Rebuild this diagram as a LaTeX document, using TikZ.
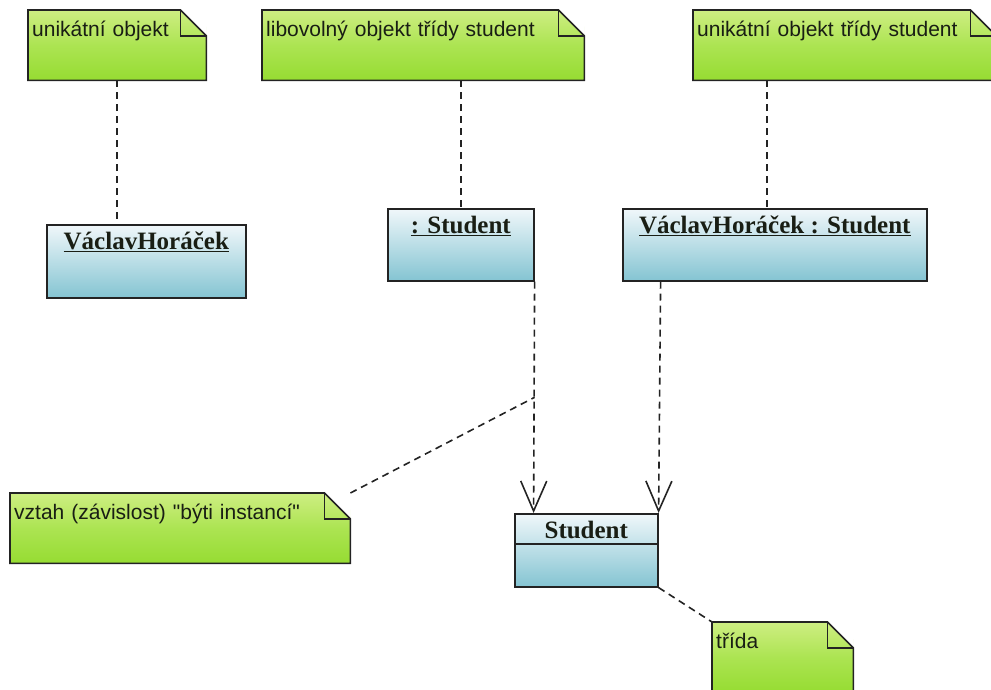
\documentclass[tikz,border=0pt]{standalone}
\usepackage{fontspec}
\setmainfont{Liberation Serif}
\newfontfamily\notefont{Liberation Sans}
\usetikzlibrary{arrows.meta,calc}

\definecolor{noteTop}{RGB}{206,238,130}
\definecolor{noteMid}{RGB}{172,228,82}
\definecolor{noteBot}{RGB}{150,220,50}
\definecolor{boxTop}{RGB}{240,247,250}
\definecolor{boxBot}{RGB}{132,196,210}
\definecolor{edge}{RGB}{35,35,35}
\definecolor{ink}{RGB}{25,30,20}

\tikzset{
  notebox/.style={anchor=north west, inner xsep=4pt, inner ysep=0pt,
    text height=26pt, text depth=44pt, align=left, text=ink,
    top color=noteTop, bottom color=noteBot, middle color=noteMid,
    font=\notefont\fontsize{21}{25}\selectfont},
  objbox/.style={anchor=north west, inner xsep=2pt, inner ysep=0pt,
    text height=25pt, align=center, text=ink,
    top color=boxTop, bottom color=boxBot, draw=edge, line width=1.6pt,
    font=\bfseries\fontsize{25}{29}\selectfont},
  noteline/.style={draw=edge, line width=1.6pt, line join=miter},
  link/.style={draw=edge, line width=1.6pt, dash pattern=on 7pt off 5pt},
  instof/.style={link, -{Straight Barb[length=30pt,width=26pt,line width=1.6pt]}},
}

\begin{document}
\begin{tikzpicture}[x=1pt,y=-1pt]
\useasboundingbox (0,0) rectangle (991,690);
\clip (0,0) rectangle (991,690);

% comment notes
\node[notebox, text width=170pt] (n1) at (28,10) {unikátní objekt};
\node[notebox, text width=314pt] (n2) at (262,10) {libovolný objekt třídy student};
\node[notebox, text width=295pt] (n3) at (693,10) {unikátní objekt třídy student};
\node[notebox, text width=332pt] (n4) at (10,493) {vztah (závislost) "býti instancí"};
\node[notebox, text width=133pt] (n5) at (712,622) {třída};

% dog-eared outlines of the notes
\foreach \n in {n1,n2,n3,n4,n5} {
  \fill[white] ([xshift=-26pt]\n.north east) -- ([yshift=-26pt]\n.north east)
     -- ([xshift=1pt,yshift=1pt]\n.north east) -- cycle;
  \draw[noteline] (\n.north west) -- ([xshift=-26pt]\n.north east)
     -- ([yshift=-26pt]\n.north east) -- (\n.south east) -- (\n.south west) -- cycle;
  \draw[noteline] ([xshift=-26pt]\n.north east) |- ([yshift=-26pt]\n.north east);
}

% objects and the class
\node[objbox, minimum width=199pt, text depth=48pt] (obj1) at (46,224) {\underline{VáclavHoráček}};
\node[objbox, minimum width=146pt, text depth=47pt] (obj2) at (387,208) {\underline{: Student}};
\node[objbox, minimum width=304pt, text depth=47pt] (obj3) at (622,208) {\underline{VáclavHoráček : Student}};
\node[objbox, minimum width=143pt, text depth=48pt] (cls) at (514,513) {Student};
\draw[edge, line width=1.6pt] ([yshift=-31pt]cls.north west) -- ([yshift=-31pt]cls.north east);

% note anchors
\draw[link] (n1.south) -- (n1.south |- obj1.north);
\draw[link] (obj2.north |- n2.south) -- (obj2.north);
\draw[link] ([xshift=-8pt]obj3.north |- n3.south) -- ([xshift=-8pt]obj3.north);

% instance-of dependencies
\coordinate (j) at ($(obj2.south east)!0.5!(obj2.south east |- cls.north)$);
\draw[instof] (obj2.south east) -- ([xshift=-1pt]obj2.south east |- cls.north);
\draw[instof] ([xshift=2pt]cls.north east |- obj3.south) -- (cls.north east);

\draw[link] (n4.north east) -- (j);
\draw[link] (cls.south east) -- (n5.north west);
\end{tikzpicture}
\end{document}
